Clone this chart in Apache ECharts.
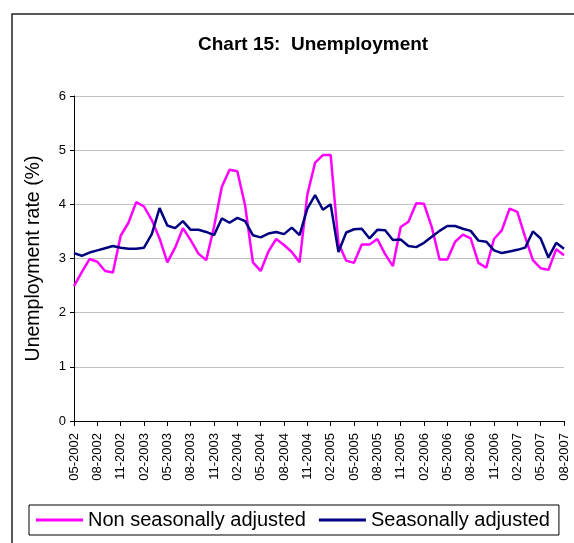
<!DOCTYPE html>
<html>
<head>
<meta charset="utf-8">
<script src="https://cdn.jsdelivr.net/npm/echarts@6/dist/echarts.min.js"></script>
<style>
  html, body { margin: 0; padding: 0; background: #fff; }
  #chart { width: 574px; height: 543px; }
</style>
</head>
<body>
<div id="chart"></div>
<script>
// monthly, 05-2002 .. 08-2007
var months = [
  '05-2002','06-2002','07-2002','08-2002','09-2002','10-2002','11-2002','12-2002',
  '01-2003','02-2003','03-2003','04-2003','05-2003','06-2003','07-2003','08-2003','09-2003','10-2003','11-2003','12-2003',
  '01-2004','02-2004','03-2004','04-2004','05-2004','06-2004','07-2004','08-2004','09-2004','10-2004','11-2004','12-2004',
  '01-2005','02-2005','03-2005','04-2005','05-2005','06-2005','07-2005','08-2005','09-2005','10-2005','11-2005','12-2005',
  '01-2006','02-2006','03-2006','04-2006','05-2006','06-2006','07-2006','08-2006','09-2006','10-2006','11-2006','12-2006',
  '01-2007','02-2007','03-2007','04-2007','05-2007','06-2007','07-2007','08-2007'
];

var nonSeasonal = [
  2.49, 2.75, 2.99, 2.94, 2.77, 2.74, 3.42, 3.66,
  4.04, 3.96, 3.71, 3.37, 2.93, 3.20, 3.56, 3.34, 3.09, 2.97, 3.58, 4.32,
  4.64, 4.61, 3.98, 2.93, 2.77, 3.13, 3.36, 3.25, 3.12, 2.93, 4.18, 4.77,
  4.91, 4.91, 3.28, 2.96, 2.92, 3.26, 3.26, 3.36, 3.08, 2.86, 3.58, 3.68,
  4.02, 4.01, 3.58, 2.98, 2.98, 3.31, 3.44, 3.37, 2.92, 2.83, 3.36, 3.52,
  3.92, 3.86, 3.40, 2.97, 2.82, 2.79, 3.17, 3.06
];

var seasonal = [
  3.10, 3.05, 3.11, 3.15, 3.19, 3.23, 3.20, 3.18,
  3.18, 3.20, 3.45, 3.93, 3.61, 3.56, 3.69, 3.53, 3.53, 3.49, 3.43, 3.74,
  3.66, 3.75, 3.69, 3.43, 3.39, 3.46, 3.49, 3.45, 3.57, 3.43, 3.92, 4.17,
  3.90, 4.00, 3.12, 3.48, 3.54, 3.55, 3.37, 3.53, 3.52, 3.34, 3.35, 3.23,
  3.21, 3.29, 3.40, 3.51, 3.60, 3.60, 3.55, 3.51, 3.33, 3.31, 3.15, 3.10,
  3.13, 3.16, 3.20, 3.50, 3.37, 3.02, 3.29, 3.18
];

var font = '"Liberation Sans", Arial, sans-serif';

var chart = echarts.init(document.getElementById('chart'));
chart.setOption({
  animation: false,
  backgroundColor: '#fff',
  textStyle: { fontFamily: font, color: '#000' },
  graphic: [{
    type: 'rect',
    shape: { x: 12, y: 14, width: 640, height: 640 },
    style: { fill: 'none', stroke: '#222', lineWidth: 1.5 },
    silent: true
  }],
  title: {
    text: 'Chart 15:  Unemployment',
    left: 198,
    top: 35,
    padding: 0,
    textStyle: { fontFamily: font, fontSize: 19, fontWeight: 'bold', color: '#000' }
  },
  legend: {
    left: 29,
    top: 505,
    padding: [5, 9, 5, 7],
    itemGap: 13,
    itemWidth: 47,
    itemHeight: 3,
    icon: 'rect',
    borderColor: '#000',
    borderWidth: 1,
    textStyle: { fontFamily: font, fontSize: 20, color: '#000' },
    data: ['Non seasonally adjusted', 'Seasonally adjusted']
  },
  grid: { left: 74, right: 10, top: 96, bottom: 122, containLabel: false },
  xAxis: {
    type: 'category',
    data: months,
    boundaryGap: false,
    axisLine: { lineStyle: { color: '#000', width: 1 } },
    axisTick: { show: true, interval: 2, length: 5, lineStyle: { color: '#000' } },
    axisLabel: { interval: 2, rotate: 90, fontSize: 13, color: '#000', margin: 12, fontFamily: font },
    splitLine: { show: false }
  },
  yAxis: {
    type: 'value',
    min: 0,
    max: 6,
    interval: 1,
    name: 'Unemployment rate (%)',
    nameLocation: 'middle',
    nameGap: 30,
    nameTextStyle: { fontFamily: font, fontSize: 19.5, color: '#000' },
    axisLine: { show: true, lineStyle: { color: '#000', width: 1 } },
    axisTick: { show: true, length: 4, lineStyle: { color: '#000' } },
    axisLabel: { fontSize: 13, color: '#000', margin: 8, fontFamily: font },
    splitLine: { lineStyle: { color: '#c0c0c0', width: 1 } }
  },
  series: [
    {
      name: 'Non seasonally adjusted',
      type: 'line',
      data: nonSeasonal,
      symbol: 'none',
      color: '#ff00ff',
      lineStyle: { width: 2.5, color: '#ff00ff' }
    },
    {
      name: 'Seasonally adjusted',
      type: 'line',
      data: seasonal,
      symbol: 'none',
      color: '#000080',
      lineStyle: { width: 2.5, color: '#000080' }
    }
  ]
});
</script>
</body>
</html>
